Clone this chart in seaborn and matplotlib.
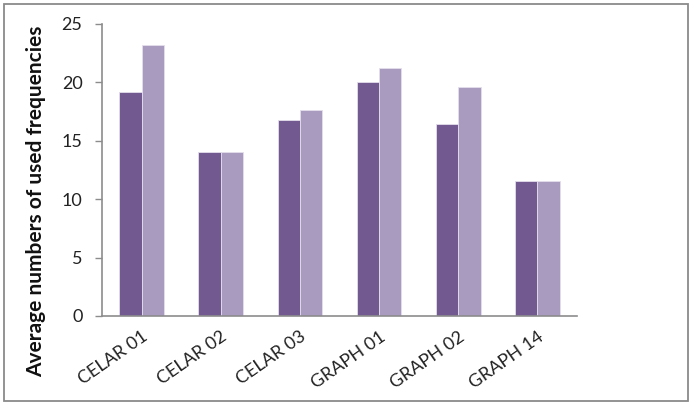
import matplotlib
matplotlib.use("Agg")
import matplotlib.pyplot as plt
import seaborn as sns
import pandas as pd
from matplotlib.patches import Rectangle

# Benchmark instances and the two series of averages
instances = ["CELAR 01", "CELAR 02", "CELAR 03", "GRAPH 01", "GRAPH 02", "GRAPH 14"]
series_a = [19.2, 14.0, 16.8, 20.0, 16.4, 11.6]
series_b = [23.2, 14.0, 17.6, 21.2, 19.6, 11.6]
series_names = ["A", "B"]
y_ticks = [0, 5, 10, 15, 20, 25]

df = pd.DataFrame({
    "instance": instances * 2,
    "value": series_a + series_b,
    "series": [series_names[0]] * len(instances) + [series_names[1]] * len(instances),
})

sns.set_theme(style="white")
plt.rcParams["font.family"] = ["Lato", "DejaVu Sans"]

W, H = 694, 403
fig = plt.figure(figsize=(W / 100, H / 100), dpi=100)
ax = fig.add_axes([102 / W, 1 - 316 / H, (577 - 102) / W, (316 - 24) / H])

palette = {"A": "#72598F", "B": "#A99BBF"}
sns.barplot(data=df, x="instance", y="value", hue="series", palette=palette,
            width=0.565, saturation=1, legend=False, ax=ax)
for p in ax.patches:
    p.set_edgecolor("#E4DEEC")
    p.set_linewidth(0.6)

ax.set_ylim(0, 25)
ax.set_xlim(-0.5, len(instances) - 0.5)
ax.set_yticks(y_ticks)
ax.set_yticklabels([str(t) for t in y_ticks], fontsize=13, color="#222222")
ax.set_xticks(range(len(instances)))
ax.set_xticklabels(instances, rotation=35, ha="right", rotation_mode="anchor",
                   fontsize=13, color="#222222")
ax.tick_params(axis="y", length=5, width=1, color="#8C8C8C", direction="out", pad=9, left=True)
ax.tick_params(axis="x", length=0, pad=9)
ax.set_xlabel("")
ax.set_ylabel("Average numbers of used frequencies", fontsize=15, fontweight="bold",
              color="#111111")
ax.yaxis.set_label_coords(-0.118, 0.394)

for side in ("top", "right"):
    ax.spines[side].set_visible(False)
for side in ("left", "bottom"):
    ax.spines[side].set_color("#8C8C8C")
    ax.spines[side].set_linewidth(1.2)

# Outer chart frame
fig.patches.append(Rectangle((4 / W, 1 - 401 / H), (688 - 4) / W, (401 - 4) / H,
                             transform=fig.transFigure, fill=False,
                             edgecolor="#8A8A8A", linewidth=1.3))

fig.savefig("out.png", dpi=100)
